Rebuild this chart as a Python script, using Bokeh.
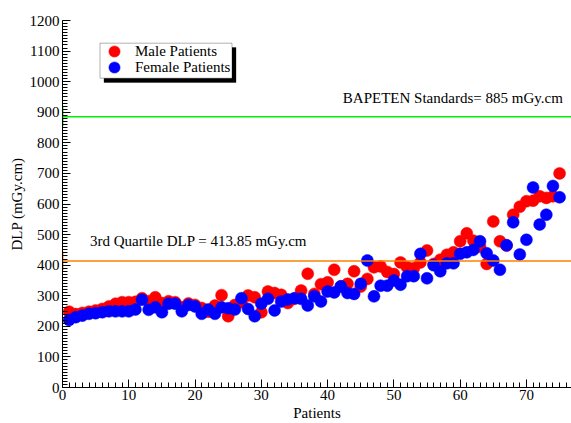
import math
from bokeh.plotting import figure
from bokeh.models import (Span, Label, Legend, LegendItem, BoxAnnotation,
                          SingleIntervalTicker, ColumnDataSource, Range1d)
from bokeh.embed import file_html
from bokeh.resources import INLINE

patients = list(range(1, 76))
male_dlp = [248, 240, 244, 248, 252, 257, 265, 274, 279, 279,
            280, 292, 282, 295, 276, 282, 279, 262, 275, 270,
            260, 248, 268, 302, 233, 270, 279, 301, 295, 246,
            314, 309, 303, 276, 290, 317, 372, 306, 338, 344,
            385, 330, 339, 380, 330, 355, 393, 396, 378, 371,
            409, 393, 390, 409, 448, 404, 418, 434, 442, 478,
            504, 480, 460, 404, 543, 478, 464, 565, 591, 609,
            611, 625, 620, 625, 700]
female_dlp = [221, 230, 235, 241, 243, 246, 249, 249, 249, 249,
              255, 287, 254, 262, 246, 274, 274, 249, 270, 265,
              241, 255, 241, 262, 259, 255, 292, 257, 233, 274,
              290, 252, 281, 288, 292, 290, 268, 298, 281, 314,
              311, 331, 309, 306, 339, 415, 298, 333, 333, 350,
              336, 364, 364, 437, 357, 400, 380, 406, 406, 437,
              442, 450, 478, 439, 415, 385, 465, 540, 435, 483,
              654, 533, 565, 659, 622]
bapeten_standard = 885
third_quartile = 413.85
series_names = ["Male Patients", "Female Patients"]
standard_text = "BAPETEN Standards= 885 mGy.cm"
quartile_text = "3rd Quartile DLP = 413.85 mGy.cm"

FONT = "Liberation Serif"

p = figure(width=571, height=423, output_backend="svg", toolbar_location=None,
           x_range=Range1d(0, 76.8), y_range=Range1d(0, 1200),
           min_border_left=62, min_border_right=0, min_border_top=20,
           min_border_bottom=36)
p.outline_line_color = None
p.grid.visible = False
p.background_fill_color = "white"
p.border_fill_color = "white"

p.xaxis.ticker = SingleIntervalTicker(interval=10, num_minor_ticks=10)
p.yaxis.ticker = SingleIntervalTicker(interval=100, num_minor_ticks=10)
for ax in (p.xaxis, p.yaxis):
    ax.axis_line_color = "black"
    ax.major_tick_in = 8
    ax.major_tick_out = 0
    ax.minor_tick_in = 5
    ax.minor_tick_out = 0
    ax.major_tick_line_color = "black"
    ax.minor_tick_line_color = "black"
    ax.major_label_text_font = FONT
    ax.major_label_text_font_size = "15px"
    ax.major_label_text_color = "black"
    ax.axis_label_text_font = FONT
    ax.axis_label_text_font_size = "15px"
    ax.axis_label_text_font_style = "normal"
    ax.axis_label_text_color = "black"
p.xaxis.axis_label = "Patients"
p.yaxis.axis_label = "DLP (mGy.cm)"
p.xaxis.major_label_standoff = 2
p.xaxis.axis_label_standoff = 2
p.yaxis.major_label_standoff = 3
p.yaxis.axis_label_standoff = 2

# reference lines
p.add_layout(Span(location=bapeten_standard, dimension="width",
                  line_color="#00EE00", line_width=1.5))
p.add_layout(Span(location=third_quartile, dimension="width",
                  line_color="#FF8000", line_width=1.5))
p.scatter(x=[0], y=[bapeten_standard], marker="dash", angle=math.pi / 2,
          size=19, line_color="#00EE00", line_width=2)
p.scatter(x=[0], y=[third_quartile], marker="dash", angle=math.pi / 2,
          size=19, line_color="#FF8000", line_width=2)

src = ColumnDataSource(dict(x=patients, male=male_dlp, female=female_dlp))
r_m = p.scatter("x", "male", source=src, size=12, fill_color="#FF0000",
                line_color="#FF0000", line_width=0.5)
r_f = p.scatter("x", "female", source=src, size=12, fill_color="#0000FF",
                line_color="#0000FF", line_width=0.5)

p.add_layout(Label(x=42.3, y=948, text=standard_text, text_font=FONT,
                   text_font_size="15px", text_baseline="middle",
                   text_color="black"))
p.add_layout(Label(x=4.15, y=480, text=quartile_text, text_font=FONT,
                   text_font_size="15px", text_baseline="middle",
                   text_color="black"))

# legend frame with drop shadow
p.add_layout(BoxAnnotation(left=41.5, right=173.5, bottom=305, top=340,
                           left_units="screen", right_units="screen",
                           bottom_units="screen", top_units="screen",
                           fill_color="black", fill_alpha=1, line_color="black"))
p.add_layout(BoxAnnotation(left=37.5, right=169.5, bottom=309.3, top=344.3,
                           left_units="screen", right_units="screen",
                           bottom_units="screen", top_units="screen",
                           fill_color="white", fill_alpha=1, line_color="black",
                           line_width=1))


def make_legend(name, renderer, loc):
    return Legend(items=[LegendItem(label=name, renderers=[renderer])],
                  location=loc, glyph_width=28, glyph_height=28,
                  label_height=28, spacing=0, padding=0, label_standoff=7,
                  border_line_color=None, background_fill_alpha=0,
                  label_text_font=FONT, label_text_font_size="15px",
                  label_text_color="black")


p.add_layout(make_legend(series_names[0], r_m, (38, 322)), "center")
p.add_layout(make_legend(series_names[1], r_f, (38, 306)), "center")

open("out.html", "w").write(file_html(p, INLINE))
